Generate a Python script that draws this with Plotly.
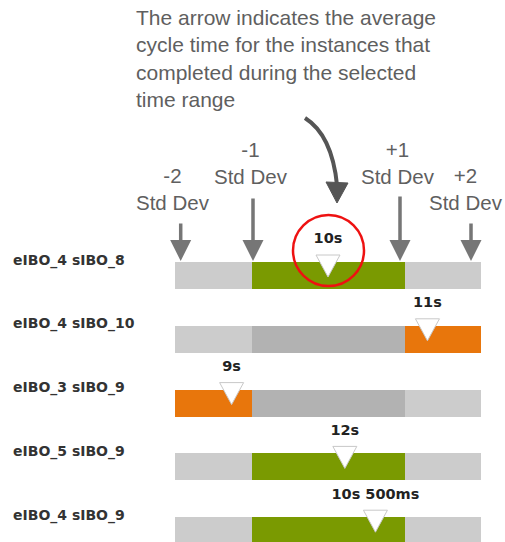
import plotly.graph_objects as go

# ---------------- data ----------------
categories = ["eIBO_4 sIBO_8", "eIBO_4 sIBO_10", "eIBO_3 sIBO_9", "eIBO_5 sIBO_9", "eIBO_4 sIBO_9"]
avg_labels = ["10s", "11s", "9s", "12s", "10s 500ms"]
avg_position_sd = [0.0, 1.30, -1.26, 0.22, 0.62]   # average cycle time, in std-dev units from the mean
band_edges = [-2, -1, 1, 2]                          # -2..-1 / -1..+1 / +1..+2 std dev
sd_marker_labels = ["-2<br>Std Dev", "-1<br>Std Dev", "+1<br>Std Dev", "+2<br>Std Dev"]
note_text = ("The arrow indicates the average<br>cycle time for the instances that"
             "<br>completed during the selected<br>time range")

# ---------------- styles ----------------
OFF = 0                      # body margin removed by post_script
PAGE_W, PAGE_H = 505, 542
W, H = PAGE_W - OFF, PAGE_H - OFF
LIGHT = "#cccccc"
MID = "#b2b2b2"
GREEN = "#7a9a01"
ORANGE = "#e8760c"
TXT = "#5f5f5f"

PX_PER_SD = 76.5
X_LEFT_PX = 175.0 - OFF
x0 = band_edges[0] - X_LEFT_PX / PX_PER_SD
x1 = x0 + W / PX_PER_SD
ROW0_PX, ROW_PX = 275.5 - OFF, 63.8
y_top = -ROW0_PX / ROW_PX
y_bot = (H - ROW0_PX) / ROW_PX
U = 1.0 / ROW_PX            # one pixel in y units


def px(xp, yp):
    """page pixel -> paper coords"""
    return (xp - OFF) / W, 1 - (yp - OFF) / H


def band_of(v):
    for k in range(len(band_edges) - 1):
        if v < band_edges[k + 1]:
            return k
    return len(band_edges) - 2


fig = go.Figure()
rows = list(range(len(categories)))

# bars: three bands per row, colour depends on where the average falls
for k in range(len(band_edges) - 1):
    colors = []
    for v in avg_position_sd:
        b = band_of(v)
        if k == 1:
            colors.append(GREEN if b == 1 else MID)
        else:
            colors.append(ORANGE if b == k else LIGHT)
    fig.add_trace(go.Bar(
        orientation="h", y=rows,
        x=[band_edges[k + 1] - band_edges[k]] * len(rows),
        base=[band_edges[k]] * len(rows),
        width=27 * U, marker=dict(color=colors, line=dict(width=0)),
        showlegend=False, hoverinfo="skip"))

# triangle markers (white, pointing down) at the average position
hw = 12 / PX_PER_SD
tx, ty = [], []
for i, v in zip(rows, avg_position_sd):
    tx += [v - hw, v + hw, v, v - hw, None]
    ty += [i - 20.5 * U, i - 20.5 * U, i + 1.5 * U, i - 20.5 * U, None]
fig.add_trace(go.Scatter(x=tx, y=ty, mode="lines", fill="toself", fillcolor="white",
                         line=dict(color="#c8c8c8", width=1), showlegend=False, hoverinfo="skip"))

# value labels
fig.add_trace(go.Scatter(
    x=avg_position_sd, y=[i - 35.8 * U for i in rows], mode="text",
    text=["<b>%s</b>" % t for t in avg_labels], textposition="middle center",
    textfont=dict(family="DejaVu Sans", size=14.5, color="#222222"),
    showlegend=False, hoverinfo="skip"))

annotations = []
# category labels
for i, c in zip(rows, categories):
    annotations.append(dict(xref="paper", yref="y", x=(11 - OFF) / W, y=i - 15.5 * U, text="<b>%s</b>" % c,
                            showarrow=False, xanchor="left", yanchor="middle",
                            font=dict(family="DejaVu Sans", size=14, color="#333333")))

# top note
nx, ny = px(134, 58)
annotations.append(dict(xref="paper", yref="paper", x=nx, y=ny, text=note_text, showarrow=False,
                        xanchor="left", yanchor="middle", align="left",
                        font=dict(family="Liberation Sans", size=21, color=TXT)))

# std dev labels + arrows
lab_pos = [(173, 189), (251, 163), (398, 163), (466, 189)]
arrow_pos = [(180.7, 222), (253, 197), (400, 195), (471, 222)]
for t, (lx, ly), (ax_, tail) in zip(sd_marker_labels, lab_pos, arrow_pos):
    xx, yy = px(lx, ly)
    annotations.append(dict(xref="paper", yref="paper", x=xx, y=yy, text=t, showarrow=False,
                            xanchor="center", yanchor="middle", align="center",
                            font=dict(family="Liberation Sans", size=20.5, color=TXT)))
    tx_, ty_ = px(ax_, 261)
    annotations.append(dict(xref="paper", yref="paper", x=tx_, y=ty_, text="", showarrow=True,
                            ax=0, ay=tail - 261, arrowhead=2, arrowsize=1.2, arrowwidth=3.5,
                            arrowcolor="#767676"))

shapes = []
# curved arrow
p0, pc, p1 = px(305, 118), px(332, 135), px(337, 185)
shapes.append(dict(type="path", xref="paper", yref="paper",
                   path="M %f,%f Q %f,%f %f,%f" % (p0 + pc + p1),
                   line=dict(color="#555555", width=4)))
h0, h1, h2 = px(326, 182), px(348, 183), px(337, 203)
shapes.append(dict(type="path", xref="paper", yref="paper",
                   path="M %f,%f L %f,%f L %f,%f Z" % (h0 + h1 + h2),
                   fillcolor="#555555", line=dict(color="#555555", width=1)))
# red highlight circle
c0, c1 = px(293, 286), px(364, 215)
shapes.append(dict(type="circle", xref="paper", yref="paper", x0=c0[0], y0=c0[1], x1=c1[0], y1=c1[1],
                   line=dict(color="#ee1111", width=2.5)))

fig.update_layout(
    width=W, height=H, autosize=False,
    margin=dict(l=0, r=0, t=0, b=0),
    paper_bgcolor="white", plot_bgcolor="white",
    barmode="overlay", bargap=0,
    xaxis=dict(range=[x0, x1], visible=False, fixedrange=True),
    yaxis=dict(range=[y_bot, y_top], visible=False, fixedrange=True),
    annotations=annotations, shapes=shapes,
)

fig.write_html(
    "out.html",
    config={"displayModeBar": False},
    post_script="document.body.style.margin='0px';"
                "document.documentElement.style.overflow='hidden';"
                "document.body.style.overflow='hidden';",
)
